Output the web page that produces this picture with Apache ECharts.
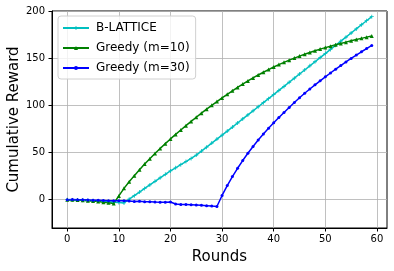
<!DOCTYPE html>
<html>
<head>
<meta charset="utf-8">
<script src="https://cdn.jsdelivr.net/npm/echarts@6/dist/echarts.min.js"></script>
<style>html,body{margin:0;padding:0;background:#fff}#c{width:394px;height:271px}</style>
</head>
<body>
<div id="c"></div>
<script>
const rounds = Array.from({length: 60}, (_, i) => i);
const seriesNames = ['B-LATTICE', 'Greedy (m=10)', 'Greedy (m=30)'];
const xTicks = [0, 10, 20, 30, 40, 50, 60];
const yTicks = [0, 50, 100, 150, 200];
const bLattice = [0, -0.2, -0.4, -0.6, -0.9, -1.2, -1.5, -1.8, -2.2, -2.6, -3.0, -3.4,
  0.5, 4.3, 8.1, 11.9, 15.7, 19.5, 23.2, 26.9, 30.5, 33.8, 37.1, 40.4, 43.7, 47.3,
  51.5, 55.7, 60.0, 64.2, 68.4, 72.7, 77.0, 81.3, 85.6, 89.9, 94.2, 98.5, 102.8, 107.1,
  111.4, 115.8, 120.1, 124.5, 128.8, 133.2, 137.5, 141.9, 146.2, 150.6, 154.9,
  159.3, 163.6, 168.0, 172.3, 176.7, 181.0, 185.4, 189.7, 194.0];
const greedy10 = [0, -0.1, -0.3, -0.6, -1.0, -1.5, -2.0, -2.6, -3.3, -4.0,
  4.0, 12.0, 19.0, 25.5, 31.8, 37.8, 43.5, 49.0, 54.3, 59.4, 64.4,
  69.2, 73.9, 78.5, 83.0, 87.4, 91.7, 95.9, 100.0, 104.0, 107.9,
  111.7, 115.4, 119.0, 122.5, 125.9, 129.1, 132.2, 135.1, 137.9, 140.6,
  143.2, 145.6, 147.9, 150.1, 152.2, 154.2, 156.1, 157.9, 159.6, 161.2,
  162.7, 164.2, 165.6, 167.0, 168.4, 169.7, 171.0, 172.3, 173.5];
const greedy30 = [0, 0.2, 0, -0.1, -0.3, -0.5, -0.6, -0.8, -1.0, -1.0,
  -1.1, -1.0, -1.5, -1.8, -1.6, -2.1, -2.3, -2.5, -2.6, -2.8,
  -2.5, -4.5, -5.0, -5.1, -5.3, -5.6, -5.9, -6.3, -6.8, -7.2,
  4.5, 15.0, 24.5, 33.3, 41.5, 49.2, 56.4, 63.2, 69.6, 75.7, 81.5,
  87.1, 92.5, 97.8, 103.0, 108.1, 112.8, 117.3, 121.7, 126.0, 130.2,
  134.3, 138.3, 142.2, 146.0, 149.7, 153.3, 156.8, 160.2, 163.5];

const FONT = 'DejaVu Sans';
const plus = 'path://M4,0h2v4h4v2h-4v4h-2v-4h-4v-2h4z';
function pairs(arr) { return rounds.map((r, i) => [r, arr[i]]); }
function mk(name, data, color, symbol, size) {
  return {
    name, type: 'line', data: pairs(data), symbol, symbolSize: size,
    showAllSymbol: true, animation: false,
    lineStyle: {color, width: 1.5}, itemStyle: {color},
    emphasis: {disabled: true}
  };
}
const chart = echarts.init(document.getElementById('c'), null, {renderer: 'canvas'});
chart.setOption({
  animation: false,
  backgroundColor: '#fff',
  grid: {left: 52, right: 7, top: 11, bottom: 43, containLabel: false, outerBoundsMode: 'none',
    show: true, borderColor: '#000', borderWidth: 1, backgroundColor: 'transparent'},
  legend: {
    orient: 'vertical', left: 58, top: 16,
    data: seriesNames,
    itemWidth: 26, itemHeight: 5, itemGap: 8,
    padding: [6, 6, 5, 4],
    borderColor: '#d0d0d0', borderWidth: 1, borderRadius: 3,
    backgroundColor: 'rgba(255,255,255,0.8)',
    textStyle: {fontFamily: FONT, fontSize: 12, lineHeight: 12, color: '#000', padding: [0, 0, 0, 2]},
    selectedMode: false
  },
  xAxis: {
    type: 'value', min: -2.95, max: 61.95, splitNumber: 7,
    name: 'Rounds', nameLocation: 'middle', nameGap: 22, nameMoveOverlap: false,
    nameTextStyle: {fontFamily: FONT, fontSize: 15, color: '#000', verticalAlign: 'top'},
    axisLine: {show: true, onZero: false, lineStyle: {color: '#000', width: 1}},
    axisTick: {show: true, inside: false, length: 3.5, lineStyle: {color: '#000'}, customValues: xTicks},
    axisLabel: {fontFamily: FONT, fontSize: 10, color: '#000', margin: 6, customValues: xTicks,
      formatter: v => xTicks.includes(v) ? String(v) : ''},
    splitLine: {show: true, lineStyle: {color: '#b0b0b0', width: 0.8}}
  },
  yAxis: {
    type: 'value', min: -30, max: 200, splitNumber: 5,
    name: 'Cumulative Reward', nameLocation: 'middle', nameGap: 30, nameMoveOverlap: false,
    nameTextStyle: {fontFamily: FONT, fontSize: 15, color: '#000'},
    axisLine: {show: true, onZero: false, lineStyle: {color: '#000', width: 1}},
    axisTick: {show: true, inside: false, length: 3.5, lineStyle: {color: '#000'}, customValues: yTicks},
    axisLabel: {fontFamily: FONT, fontSize: 10, color: '#000', margin: 7, customValues: yTicks,
      formatter: v => yTicks.includes(v) ? String(v) : ''},
    splitLine: {show: true, lineStyle: {color: '#b0b0b0', width: 0.8}}
  },
  series: [
    mk(seriesNames[0], bLattice, '#00bfbf', plus, 4),
    mk(seriesNames[1], greedy10, '#008000', 'triangle', 4),
    mk(seriesNames[2], greedy30, '#0000ff', 'circle', 3)
  ]
});
</script>
</body>
</html>
